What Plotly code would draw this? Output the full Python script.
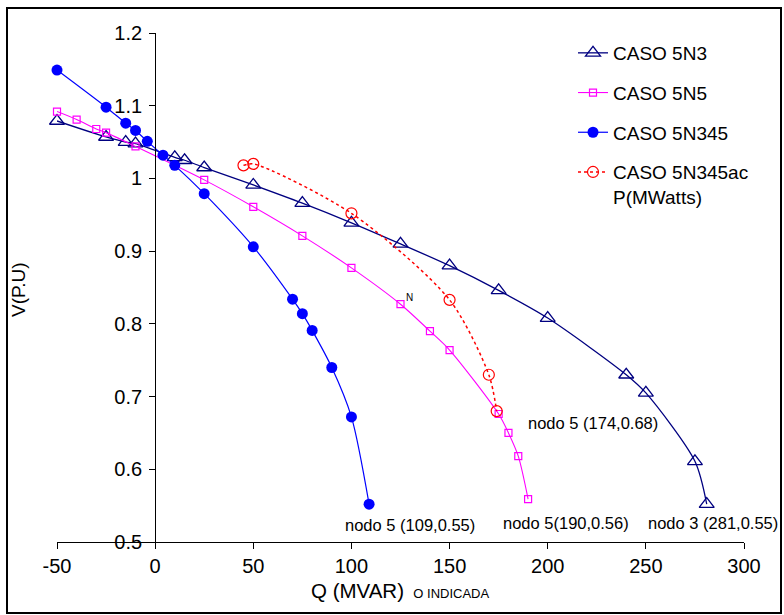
import plotly.graph_objects as go

# ---- data ----
q_5n3 = [-50, -25, -15, -10, 10, 15, 25, 50, 75, 100, 125, 150, 175, 200, 240, 250, 275, 281]
v_5n3 = [1.079, 1.057, 1.050, 1.048, 1.029, 1.025, 1.015, 0.991, 0.966, 0.939, 0.910, 0.880, 0.846, 0.808, 0.730, 0.705, 0.611, 0.552]

q_5n5 = [-50, -40, -30, -25, -10, 25, 50, 75, 100, 125, 140, 150, 175, 180, 185, 190]
v_5n5 = [1.092, 1.081, 1.068, 1.063, 1.044, 0.998, 0.961, 0.921, 0.877, 0.827, 0.790, 0.764, 0.676, 0.650, 0.618, 0.559]

q_5n345 = [-50, -25, -15, -10, -4, 4, 10, 25, 50, 70, 75, 80, 90, 100, 109]
v_5n345 = [1.149, 1.098, 1.076, 1.066, 1.051, 1.032, 1.018, 0.979, 0.906, 0.834, 0.814, 0.791, 0.740, 0.672, 0.552]

p_5n345ac = [45, 50, 100, 150, 170, 174]
v_5n345ac = [1.018, 1.020, 0.952, 0.833, 0.730, 0.680]

x_ticks = [-50, 0, 50, 100, 150, 200, 250, 300]
x_tick_text = ["-50", "0", "50", "100", "150", "200", "250", "300"]
y_ticks = [0.5, 0.6, 0.7, 0.8, 0.9, 1.0, 1.1, 1.2]
y_tick_text = ["0.5", "0.6", "0.7", "0.8", "0.9", "1", "1.1", "1.2"]

notes = [
    (109, 0.55, "nodo 5 (109,0.55)"),
    (190, 0.56, "nodo 5(190,0.56)"),
    (281, 0.55, "nodo 3 (281,0.55)"),
    (174, 0.68, "nodo 5 (174,0.68)"),
]

FONT = "Liberation Sans, Arial, sans-serif"

fig = go.Figure()
fig.add_trace(go.Scatter(
    x=q_5n3, y=v_5n3, name="CASO 5N3", legendgroup="a", mode="lines+markers", cliponaxis=False,
    line=dict(color="#000080", width=1.3, shape="spline", smoothing=0.8),
    marker=dict(symbol="triangle-up-open", size=13, color="#000080", line=dict(width=1.3))))
fig.add_trace(go.Scatter(
    x=q_5n5, y=v_5n5, name="CASO 5N5", legendgroup="b", mode="lines+markers", cliponaxis=False,
    line=dict(color="#FF00FF", width=1.1, shape="spline", smoothing=0.8),
    marker=dict(symbol="square-open", size=7, color="#FF00FF", line=dict(width=1.2))))
fig.add_trace(go.Scatter(
    x=q_5n345, y=v_5n345, name="CASO 5N345", legendgroup="c", mode="lines+markers", cliponaxis=False,
    line=dict(color="#0000FF", width=1.2, shape="spline", smoothing=0.8),
    marker=dict(symbol="circle", size=11, color="#0000FF")))
fig.add_trace(go.Scatter(
    x=p_5n345ac, y=v_5n345ac, name="CASO 5N345ac<br>P(MWatts)", legendgroup="d", mode="lines+markers",
    cliponaxis=False,
    line=dict(color="#FF0000", width=1.5, dash="dot", shape="spline", smoothing=0.8),
    marker=dict(symbol="circle-open", size=11, color="#FF0000", line=dict(width=1.2))))

# annotations
pos = {
    "nodo 5 (109,0.55)": (410, 525),
    "nodo 5(190,0.56)": (566, 523),
    "nodo 3 (281,0.55)": (713, 523),
    "nodo 5 (174,0.68)": (593, 423),
}
L, R, T, B = 57, 40, 33, 73
W, H = 784, 615
pw, ph = W - L - R, H - T - B

def px2paper(px, py):
    return (px - L) / pw, (H - B - py) / ph

for xq, yv, txt in notes:
    px, py = pos[txt]
    xp, yp = px2paper(px, py)
    fig.add_annotation(x=xp, y=yp, xref="paper", yref="paper", text=txt, showarrow=False,
                       font=dict(family=FONT, size=16.5, color="black"), xanchor="center", yanchor="middle")

fig.add_annotation(x=129.5, y=0.836, xref="x", yref="y", text="N", showarrow=False,
                   font=dict(family=FONT, size=10, color="black"))

# axis titles
xp, yp = px2paper(400, 590)
fig.add_annotation(x=xp, y=yp, xref="paper", yref="paper",
                   text="Q (MVAR) <span style='font-size:13px'> O INDICADA</span>", showarrow=False,
                   font=dict(family=FONT, size=20.5, color="black"), xanchor="center", yanchor="middle")
xp, yp = px2paper(18, 290)
fig.add_annotation(x=xp, y=yp, xref="paper", yref="paper", text="V(P.U)", textangle=-90,
                   showarrow=False, font=dict(family=FONT, size=19, color="black"),
                   xanchor="center", yanchor="middle")

# outer frame
x0, y1 = px2paper(7, 8)
x1, y0 = px2paper(781, 613)
fig.add_shape(type="rect", xref="paper", yref="paper", x0=x0, y0=y0, x1=x1, y1=y1,
              line=dict(color="black", width=2), fillcolor="rgba(0,0,0,0)", layer="below")

lx, ly = px2paper(573, 34)
fig.update_layout(
    width=W, height=H,
    margin=dict(l=L, r=R, t=T, b=B, pad=0),
    paper_bgcolor="white", plot_bgcolor="white",
    font=dict(family=FONT, color="black"),
    showlegend=True,
    legend=dict(x=lx, y=ly, xanchor="left", yanchor="top", font=dict(family=FONT, size=19),
                tracegroupgap=12, valign="top", bgcolor="rgba(0,0,0,0)"),
    xaxis=dict(range=[-50, 300], tickvals=x_ticks, ticktext=x_tick_text, ticks="outside", ticklen=6,
               tickcolor="black", showline=True, linecolor="black", linewidth=1, showgrid=False,
               zeroline=False, tickfont=dict(family=FONT, size=20), domain=[0, 1]),
    yaxis=dict(range=[0.5, 1.2], tickvals=y_ticks, ticktext=y_tick_text, ticks="outside", ticklen=6,
               tickcolor="black", showline=True, linecolor="black", linewidth=1, showgrid=False,
               zeroline=False, anchor="free", position=50 / 350, tickfont=dict(family=FONT, size=20),
               ticklabelstandoff=3),
)

fig.write_html("out.html")
